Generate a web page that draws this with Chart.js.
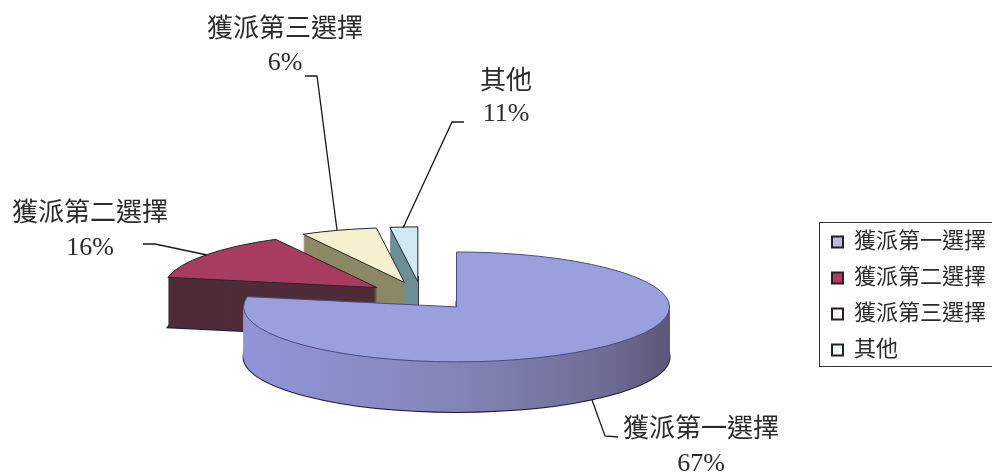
<!DOCTYPE html>
<html>
<head>
<meta charset="utf-8">
<title>獲派選擇</title>
<style>
  html, body { margin: 0; padding: 0; background: #fff; overflow: hidden; }
  canvas { display: block; }
</style>
<script src="https://cdn.jsdelivr.net/npm/chart.js@4/dist/chart.umd.min.js"></script>
</head>
<body>
<canvas id="grafico" width="992" height="474"></canvas>
<script>
const categorias = ['獲派第一選擇', '獲派第二選擇', '獲派第三選擇', '其他'];
// Porcentajes impresos en las etiquetas del gráfico
const porcentajes = [67, 16, 6, 11];
// Tamaño de cada sector tal como está dibujado (no coincide con lo impreso)
const sectores = [78, 14.1, 5.8, 2.1];
const coloresCara = ['#9A9FDE', '#A83C60', '#F6F0D0', '#D0E9F3'];
const coloresLado = ['#8487B8', '#4F2C38', '#8D8866', '#6D8E96'];
const coloresLeyenda = ['#B9B9EA', '#B33A60', '#FBF8EE', '#F3FAFC'];

const inclinacion = 0.258;
const grosor = 50;
const separacion = 55;
const fuente = '"Liberation Serif", "Noto Sans CJK TC", serif';
const colorTexto = '#2b2b2b';

// Posición de cada etiqueta y su línea guía
const etiquetas = [
  { x: 701, y1: 430, y2: 464, guia: [[592, 400], [605, 436], [618, 437]] },
  { x: 90, y1: 214, y2: 248, guia: [[143, 244], [155, 244], [207, 255]] },
  { x: 285, y1: 30, y2: 63, guia: [[305, 76], [317, 76], [337, 230]] },
  { x: 506, y1: 82, y2: 114, guia: [[464, 122], [452, 122], [403, 228]] }
];

function trazarSector(ctx, arco, dy) {
  const medio = (arco.startAngle + arco.endAngle) / 2;
  const cx = arco.x + Math.cos(medio) * separacion;
  const cy = Math.sin(medio) * separacion;
  ctx.save();
  ctx.translate(0, arco.y + dy);
  ctx.scale(1, inclinacion);
  ctx.beginPath();
  ctx.moveTo(cx, cy);
  ctx.arc(cx, cy, arco.outerRadius, arco.startAngle, arco.endAngle);
  ctx.closePath();
  ctx.restore();
}

// Pastel inclinado: se dibuja de atrás hacia adelante usando los arcos de Chart.js
const pastel3d = {
  id: 'pastel3d',
  beforeDatasetDraw() {
    return false;
  },
  afterDatasetsDraw(chart) {
    const ctx = chart.ctx;
    const arcos = chart.getDatasetMeta(0).data;

    for (let i = arcos.length - 1; i >= 0; i--) {
      const arco = arcos[i];
      let relleno = coloresLado[i];
      if (i === 0) {
        relleno = ctx.createLinearGradient(243, 0, 670, 0);
        relleno.addColorStop(0, '#9195D8');
        relleno.addColorStop(0.5, '#8385B6');
        relleno.addColorStop(0.85, '#6F6D95');
        relleno.addColorStop(1, '#5A5777');
      }
      // El borde inferior va primero: las copias de encima tapan lo que queda dentro
      trazarSector(ctx, arco, grosor);
      ctx.strokeStyle = '#1c1c40';
      ctx.lineWidth = 2;
      ctx.stroke();

      ctx.fillStyle = relleno;
      for (let d = grosor; d > 0; d--) {
        trazarSector(ctx, arco, d);
        ctx.fill();
      }

      trazarSector(ctx, arco, 0);
      ctx.fillStyle = coloresCara[i];
      ctx.fill();
      ctx.lineWidth = 1;
      ctx.strokeStyle = i === 0 ? '#4a4a80' : '#26262e';
      ctx.stroke();
    }

    ctx.save();
    ctx.fillStyle = colorTexto;
    ctx.strokeStyle = '#1a1a1a';
    ctx.lineWidth = 1.3;
    ctx.textAlign = 'center';
    ctx.textBaseline = 'middle';
    ctx.font = '26px ' + fuente;
    etiquetas.forEach((e, i) => {
      ctx.fillText(categorias[i], e.x, e.y1);
      ctx.fillText(porcentajes[i] + '%', e.x, e.y2);
      ctx.beginPath();
      e.guia.forEach((p, j) => (j === 0 ? ctx.moveTo(p[0], p[1]) : ctx.lineTo(p[0], p[1])));
      ctx.stroke();
    });
    ctx.restore();
  },
  afterDraw(chart) {
    // Marco de la leyenda
    const ctx = chart.ctx;
    ctx.save();
    ctx.strokeStyle = '#333';
    ctx.lineWidth = 1;
    ctx.strokeRect(819.5, 222.5, 190, 144);
    ctx.restore();
  }
};

new Chart(document.getElementById('grafico'), {
  type: 'pie',
  data: {
    labels: categorias,
    datasets: [{
      data: sectores,
      backgroundColor: coloresLeyenda,
      borderColor: '#222',
      borderWidth: 2
    }]
  },
  options: {
    responsive: false,
    animation: false,
    radius: 213,
    layout: { padding: { left: 25, right: -4, top: 130, bottom: 12 } },
    events: [],
    plugins: {
      tooltip: { enabled: false },
      legend: {
        position: 'right',
        labels: {
          color: colorTexto,
          boxWidth: 11,
          boxHeight: 11,
          padding: 14,
          font: { family: fuente, size: 22 }
        }
      }
    }
  },
  plugins: [pastel3d]
});
</script>
</body>
</html>
